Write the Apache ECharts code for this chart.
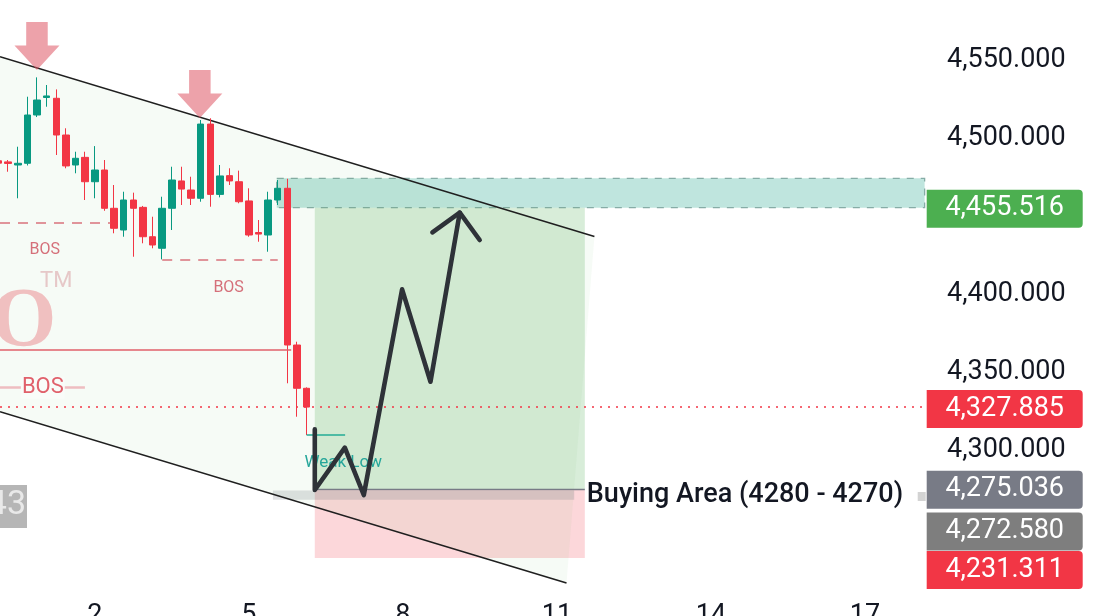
<!DOCTYPE html>
<html>
<head>
<meta charset="utf-8">
<script src="https://cdn.jsdelivr.net/npm/echarts@6/dist/echarts.min.js"></script>
<style>
html, body { margin: 0; padding: 0; background: #fff; }
#main { width: 1094px; height: 616px; }
</style>
</head>
<body>
<div id="main"></div>
<script>
// candles, one per bar (x = bar index)
var opens  = [4485.5,4484.8,4482.8,4483.9,4514.8,4526.0,4525.5,4502.0,4482.8,4487.7,4472.1,4479.6,4455.1,4441.2,4460.4,4455.7,4436.9,4429.5,4455.1,4472.6,4466.8,4461.5,4509.0,4464.0,4476.0,4472.1,4459.8,4439.6,4438.0,4460.4,4467.9,4367.6,4339.9];
var closes = [4484.0,4483.8,4483.9,4514.8,4524.4,4527.0,4502.0,4482.2,4487.1,4472.1,4479.6,4455.1,4442.3,4460.4,4455.1,4436.9,4431.6,4455.1,4473.2,4467.4,4461.5,4509.0,4464.0,4475.8,4472.6,4459.3,4438.0,4438.6,4460.4,4467.9,4367.6,4339.9,4327.885];
var lows   = [4482.5,4478.5,4461.5,4482.5,4513.5,4520.1,4489.2,4480.7,4477.5,4460.4,4461.5,4453.5,4439.1,4436.9,4424.1,4432.7,4429.5,4422.4,4441.2,4457.2,4457.2,4459.3,4456.1,4462.1,4470.0,4458.3,4436.9,4433.7,4427.3,4457.2,4343.1,4321.7,4310.0];
var highs  = [4487.0,4486.0,4494.5,4526.5,4538.9,4534.0,4531.2,4506.3,4491.3,4491.3,4494.9,4486.0,4470.0,4465.7,4465.1,4456.6,4449.7,4462.5,4481.7,4481.7,4475.3,4511.6,4512.7,4482.8,4480.7,4479.2,4467.9,4447.6,4465.7,4473.2,4474.0,4369.7,4340.5];

// axis ticks
var yTicks = [4300, 4350, 4400, 4500, 4550];
var xTickBars = [10, 26, 42, 58, 74, 90];
var xTickLabels = ['2', '5', '8', '11', '14', '17'];

// drawings, as [bar, price]
var channelTop = [[0.15, 4552.1], [61.9, 4437.1]];
var channelBottom = [[0.15, 4324.9], [59.0, 4215.3]];
var supplyZone = [[28.9, 4474.3], [96.2, 4455.516]];
var targetBox = [[32.85, 4455.516], [60.9, 4275.036]];
var stopBox = [[32.85, 4275.036], [60.9, 4231.311]];
var buyBand = [[28.5, 4274.5], [59.8, 4268.5]];
var bosLines = [[[0.15, 4445.9], [11.6, 4445.9]], [[17, 4422.4], [29, 4422.4]]];
var bosLabels = [[4.8, 4428.4], [23.9, 4404.1]];
var breakLine = [[0.15, 4364.4], [30.4, 4364.4]];
var bigBos = [[0.15, 4340.3], [8.97, 4340.3]];
var weakLow = [[32, 4310.0], [36, 4310.0]];
var weakLowLabel = [35.8, 4292.3];
var entryLine = [[32.85, 4275.036], [60.9, 4275.036]];
var lastPrice = 4327.885;
var pathX = [32.85, 32.85, 35.97, 37.94, 41.92, 44.87, 47.91];
var pathY = [4313.6, 4274.8, 4301.9, 4271.6, 4403.2, 4344.1, 4452.3];
var arrowHead = [[45.07, 4439.7], [47.91, 4452.3], [49.98, 4434.8]];
var topArrows = [[3.99, 4543.6], [20.91, 4512.9]];
var buyLabelAt = [60.9, 4271.6];
var tagPrices = [4455.516, 4327.885, 4275.036, 4272.580, 4231.311];

// tag looks
var tagColors = ['#4caf50', '#f23645', '#787b86', '#7e7e7e', '#f23645'];
var tagShift = [1, 2, 0, 38, 12];
var tagShape = 'path://M0,0 H152 Q156,0 156,4 V34 Q156,38 152,38 H0 Z';

function fmt(v) {
    var s = v.toFixed(3).split('.');
    return s[0].replace(/\B(?=(\d{3})+(?!\d))/g, ',') + '.' + s[1];
}

var candles = opens.map(function (o, i) {
    return [i, o, closes[i], lows[i], highs[i]];
});

var myChart = echarts.init(document.getElementById('main'));

var option = {
    animation: false,
    backgroundColor: '#ffffff',
    textStyle: { fontFamily: 'Roboto, sans-serif' },
    grid: { left: 0, right: 166, top: 0, bottom: 26, containLabel: false, outerBoundsMode: 'none' },
    xAxis: {
        type: 'value',
        min: 0.15,
        max: 96.55,
        axisLine: { show: false },
        axisTick: { show: false },
        splitLine: { show: false },
        axisLabel: {
            customValues: xTickBars,
            margin: 13,
            fontSize: 27,
            color: '#131722',
            formatter: function (v) {
                var i = xTickBars.indexOf(v);
                return i < 0 ? '' : xTickLabels[i];
            }
        }
    },
    yAxis: {
        type: 'value',
        position: 'right',
        min: 4210.8,
        max: 4588.4,
        axisLine: { show: false },
        axisTick: { show: false },
        splitLine: { show: false },
        axisLabel: {
            customValues: yTicks,
            margin: 19,
            fontSize: 27,
            color: '#131722',
            formatter: fmt
        }
    },
    graphic: [
        { type: 'text', z: 2, left: -9, top: 282, style: { text: 'O', font: 'bold 84px "Liberation Serif", serif', fill: '#f0c0c0' } },
        { type: 'text', z: 2, left: 40, top: 270, style: { text: 'TM', font: '22px Roboto, sans-serif', fill: '#e6c8c8' } },
        { type: 'rect', z: 2, shape: { x: 0, y: 485, width: 27, height: 43 }, style: { fill: '#b6b6b6' } },
        { type: 'text', z: 3, right: 1068, top: 488, style: { text: '43', font: '34px Roboto, sans-serif', fill: '#e9e9e9' } }
    ],
    series: [
        {
            // channel background
            type: 'custom',
            z: 1,
            silent: true,
            data: [[10, 4400]],
            renderItem: function (params, api) {
                var pts = [channelTop[0], channelTop[1], channelBottom[1], channelBottom[0]].map(function (p) {
                    return api.coord(p);
                });
                return { type: 'polygon', shape: { points: pts }, style: { fill: 'rgba(76,175,80,0.05)' } };
            }
        },
        {
            // zones and position boxes
            type: 'line',
            z: 2,
            data: [],
            markArea: {
                silent: true,
                data: [
                    [{ coord: supplyZone[0], itemStyle: { color: 'rgba(8,153,129,0.26)', borderColor: '#86aca6', borderWidth: 1.3, borderType: [7, 7] } }, { coord: supplyZone[1] }],
                    [{ coord: targetBox[0], itemStyle: { color: 'rgba(76,175,80,0.22)' } }, { coord: targetBox[1] }],
                    [{ coord: stopBox[0], itemStyle: { color: 'rgba(242,54,69,0.2)' } }, { coord: stopBox[1] }],
                    [{ coord: buyBand[0], itemStyle: { color: 'rgba(120,123,134,0.22)' } }, { coord: buyBand[1] }]
                ]
            }
        },
        {
            type: 'line', z: 3, data: channelTop, symbol: 'none', silent: true,
            lineStyle: { color: '#1f1f1f', width: 1.6 }
        },
        {
            type: 'line', z: 3, data: channelBottom, symbol: 'none', silent: true,
            lineStyle: { color: '#1f1f1f', width: 1.6 }
        },
        {
            // levels
            type: 'line',
            z: 3,
            data: [],
            markLine: {
                silent: true,
                symbol: ['none', 'none'],
                label: { show: false },
                data: [
                    [{ coord: bosLines[0][0], lineStyle: { color: '#d9737c', width: 1.6, type: [10, 8] } }, { coord: bosLines[0][1] }],
                    [{ coord: bosLines[1][0], lineStyle: { color: '#d9737c', width: 1.6, type: [10, 8] } }, { coord: bosLines[1][1] }],
                    [{ coord: breakLine[0], lineStyle: { color: '#e0606a', width: 1.5, type: 'solid' } }, { coord: breakLine[1] }],
                    [{ coord: bigBos[0], lineStyle: { color: '#eebdc0', width: 2.6, type: 'solid' } }, { coord: bigBos[1] }],
                    [{ coord: weakLow[0], lineStyle: { color: '#22ab94', width: 1.6, type: 'solid' } }, { coord: weakLow[1] }],
                    [{ coord: entryLine[0], lineStyle: { color: '#787b86', width: 1.4, type: 'solid' } }, { coord: entryLine[1] }],
                    { yAxis: lastPrice, lineStyle: { color: '#f23645', width: 1.5, type: [2, 6] } }
                ]
            }
        },
        {
            type: 'candlestick',
            z: 4,
            data: candles,
            encode: { x: 0, y: [1, 2, 3, 4] },
            barWidth: 7,
            itemStyle: {
                color: '#089981',
                color0: '#f23645',
                borderColor: '#089981',
                borderColor0: '#f23645',
                borderWidth: 1
            }
        },
        {
            // top arrows
            type: 'line',
            z: 5,
            data: [],
            markPoint: {
                silent: true,
                symbol: 'path://M12,0 L34,0 L34,24 L46,24 L23,49 L0,24 L12,24 Z',
                symbolSize: [45, 48],
                symbolOffset: [0, '-50%'],
                itemStyle: { color: 'rgba(222,85,100,0.55)' },
                label: { show: false },
                data: topArrows.map(function (p) { return { coord: p }; })
            }
        },
        {
            type: 'line', z: 6, symbol: 'none', silent: true,
            data: pathX.map(function (x, i) { return [x, pathY[i]]; }),
            lineStyle: { color: '#2e3238', width: 4.6, cap: 'round', join: 'round' }
        },
        {
            type: 'line', z: 6, symbol: 'none', silent: true,
            data: arrowHead,
            lineStyle: { color: '#2e3238', width: 4.6, cap: 'round', join: 'round' }
        },
        {
            // text notes
            type: 'line',
            z: 7,
            data: [],
            markPoint: {
                silent: true,
                symbolSize: 0,
                data: [
                    { coord: bosLabels[0], label: { show: true, position: 'inside', formatter: 'BOS', color: '#d5707a', fontSize: 16 } },
                    { coord: bosLabels[1], label: { show: true, position: 'inside', formatter: 'BOS', color: '#d5707a', fontSize: 16 } },
                    { coord: [4.6, bigBos[0][1]], label: { show: true, position: 'inside', formatter: 'BOS', color: '#e0606b', fontSize: 22, backgroundColor: '#f9fcf9', padding: [0, 1] } },
                    { coord: weakLowLabel, label: { show: true, position: 'inside', formatter: 'Weak Low', color: '#26a69a', fontSize: 17 } },
                    { coord: buyLabelAt, label: { show: true, position: 'right', distance: 2, formatter: 'Buying Area (4280 - 4270)', color: '#131722', fontSize: 27, fontWeight: 500 } }
                ]
            }
        },
        {
            // price tags
            type: 'line',
            z: 8,
            data: [],
            markPoint: {
                silent: true,
                data: tagPrices.map(function (p, i) {
                    return {
                        coord: [96, p],
                        symbol: tagShape,
                        symbolSize: [156, 38],
                        symbolOffset: [82, tagShift[i]],
                        itemStyle: { color: tagColors[i] },
                        label: { show: true, position: 'inside', formatter: fmt(p), color: '#ffffff', fontSize: 27 }
                    };
                }).concat([{
                    coord: [96, tagPrices[3]],
                    symbol: 'rect',
                    symbolSize: [8, 9],
                    symbolOffset: [-1, 3],
                    itemStyle: { color: '#d3d3d3' },
                    label: { show: false }
                }])
            }
        }
    ]
};

myChart.setOption(option);
</script>
</body>
</html>
